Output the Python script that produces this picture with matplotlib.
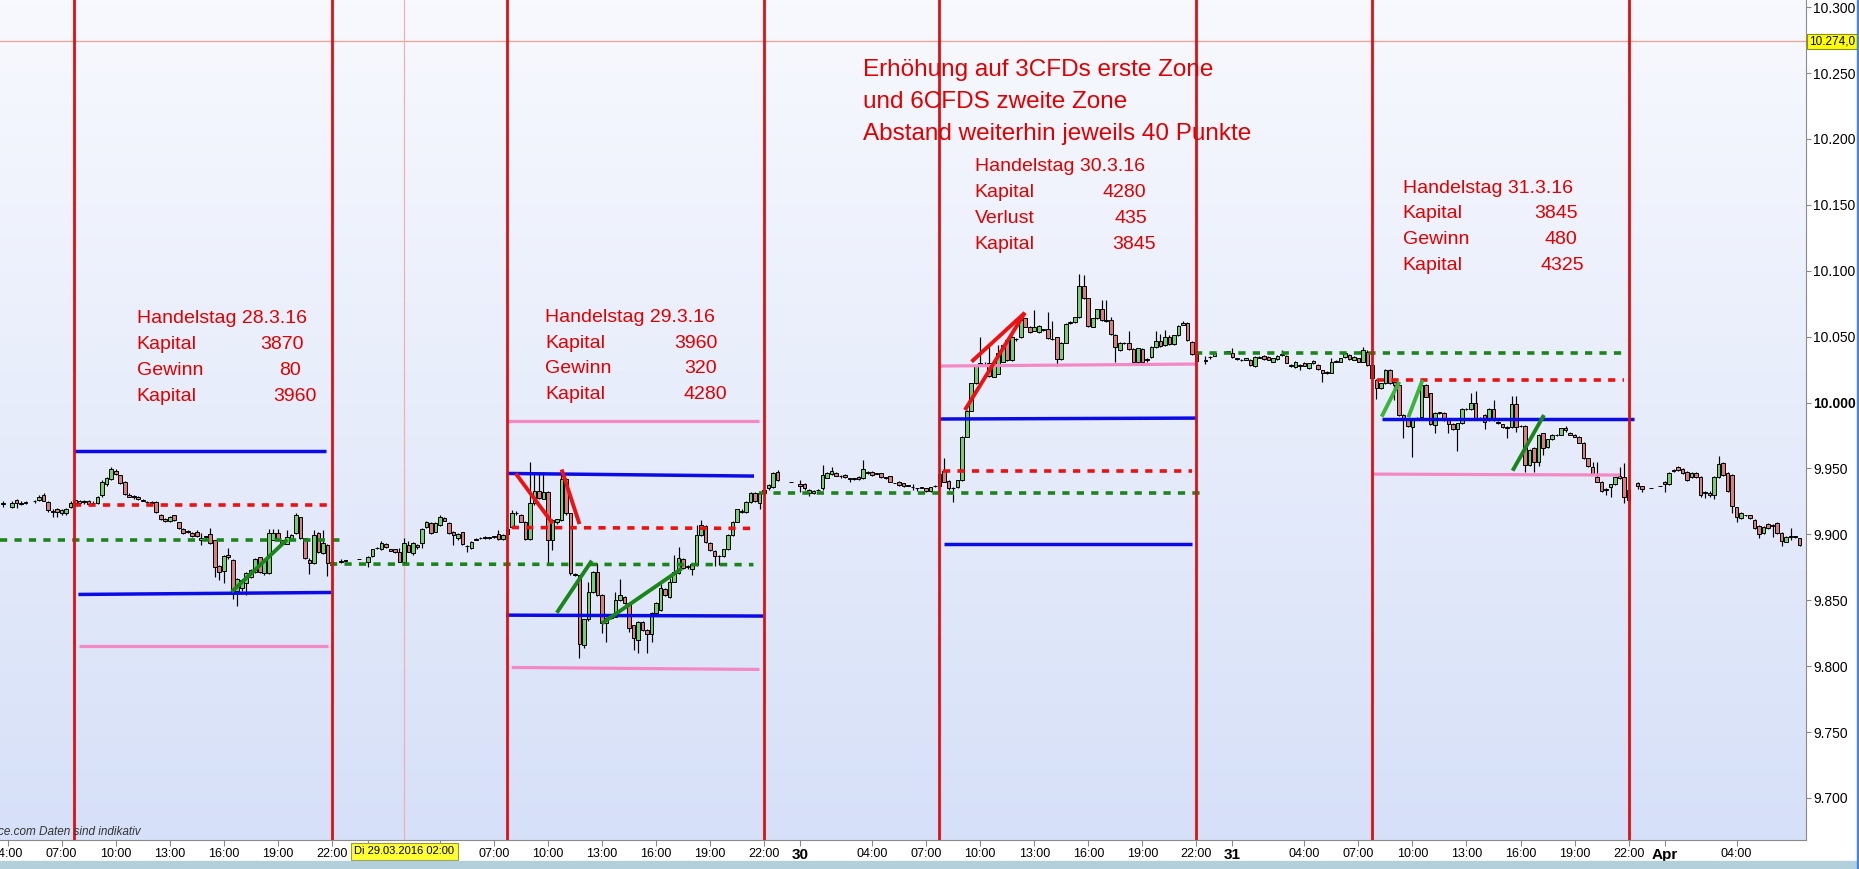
import numpy as np
import pandas as pd
import matplotlib
matplotlib.use('Agg')
import matplotlib.pyplot as plt
import matplotlib.transforms as mtrans
from matplotlib.colors import LinearSegmentedColormap
from matplotlib.patches import Rectangle

plt.rcParams['font.family'] = ['Liberation Sans', 'DejaVu Sans']

# 15 min candles: (hours since 28.03.2016 00:00, open, high, low, close)
candles_28 = [
    (3.75, 9923, 9925, 9921, 9924), (4.25, 9921, 9925, 9920, 9924), (4.5, 9926, 9927, 9920, 9924),
    (4.75, 9924, 9925, 9922, 9923), (5.0, 9924, 9925, 9923, 9924.5), (5.5, 9925, 9926, 9924, 9925),
    (5.75, 9926, 9930, 9925, 9928.5), (6.0, 9930, 9931, 9925, 9925.5), (6.25, 9924.5, 9925, 9917, 9918.5),
    (6.5, 9918, 9919, 9913, 9917), (6.75, 9919, 9920, 9913, 9917), (7.0, 9916, 9919.5, 9915, 9918.5),
    (7.25, 9916, 9920, 9915, 9919), (7.5, 9920.5, 9925, 9920, 9924), (7.75, 9926, 9927, 9922, 9923.5),
    (8.0, 9924, 9926, 9923, 9925), (8.25, 9925, 9926, 9923, 9924.5), (8.5, 9925.5, 9926, 9922, 9923),
    (8.75, 9923.5, 9925, 9923, 9924), (9.0, 9924, 9929, 9923, 9928), (9.25, 9929.5, 9941, 9928, 9939.5),
    (9.5, 9938, 9943.5, 9937, 9942.7), (9.75, 9941.7, 9951, 9941, 9949.2), (10.0, 9948.2, 9949.5, 9945, 9945.7),
    (10.25, 9944.7, 9945, 9938, 9938.6), (10.5, 9940, 9940.5, 9930, 9930.5), (10.75, 9930, 9931, 9928, 9928.5),
    (11.0, 9929, 9930, 9927, 9928), (11.25, 9928.5, 9929, 9926, 9926.7), (11.5, 9925.5, 9926.5, 9925, 9925.5),
    (11.75, 9924.5, 9925, 9923, 9924.2), (12.0, 9924, 9925, 9923, 9924), (12.25, 9924.2, 9925, 9916, 9916.6),
    (12.5, 9915, 9915.5, 9911, 9911.8), (12.75, 9911.8, 9912.5, 9909, 9910.3), (13.0, 9910, 9914, 9909, 9913.3),
    (13.25, 9914.3, 9915, 9910, 9910.6), (13.5, 9909, 9909.5, 9904, 9904.5), (13.75, 9904, 9904.5, 9900, 9901),
    (14.0, 9902, 9903, 9901, 9902), (14.25, 9900.7, 9901.5, 9898, 9899), (14.5, 9902, 9903, 9898, 9899),
    (14.75, 9895.4, 9900.7, 9891.8, 9897.4), (15.0, 9898.5, 9899, 9897, 9897.7), (15.25, 9900.5, 9905, 9893, 9893.6),
    (15.5, 9895.6, 9896, 9867.8, 9874.9), (15.75, 9876, 9877, 9865, 9871.4), (16.0, 9871.9, 9884.5, 9863, 9883.7),
    (16.25, 9884.7, 9890, 9881.5, 9882.5), (16.5, 9880.5, 9881, 9850.8, 9857.2), (16.75, 9857.2, 9866.5, 9845.8, 9865.8),
    (17.0, 9859, 9866, 9857, 9865), (17.25, 9863.3, 9871.5, 9854, 9870.8), (17.5, 9867.8, 9873.5, 9867, 9872.9),
    (17.75, 9871.6, 9882, 9871, 9881.2), (18.0, 9882.5, 9883, 9870.5, 9871.4), (18.25, 9870.3, 9881, 9869.5, 9880.5),
    (18.5, 9870.3, 9903.7, 9870, 9900.7), (18.75, 9896, 9903.7, 9895.5, 9901), (19.0, 9901.2, 9903.7, 9895, 9895.6),
    (19.25, 9895.6, 9896, 9892.5, 9893), (19.5, 9893, 9903, 9892.5, 9898), (19.75, 9896.1, 9900, 9895.5, 9899.2),
    (20.0, 9900.7, 9915.9, 9900, 9914.3), (20.25, 9912.8, 9913.5, 9896.5, 9896.9), (20.5, 9896.9, 9897.5, 9881, 9881.7),
    (20.75, 9880.5, 9882, 9869.6, 9878.4), (21.0, 9878, 9903.2, 9877.5, 9899.2), (21.25, 9900.7, 9901.5, 9886, 9886.8),
    (21.5, 9885.5, 9903, 9885, 9893.1), (21.75, 9891.6, 9892.5, 9868.3, 9878), (22.0, 9879, 9880, 9876, 9876.7),
    (22.5, 9879, 9881.5, 9878, 9880), (22.75, 9880, 9880.5, 9879, 9880), (23.5, 9881, 9881, 9881, 9881),
]
candles_29 = [
    (24.0, 9879, 9883.5, 9875, 9883), (24.25, 9883.5, 9889, 9883, 9888.6), (24.5, 9889.5, 9890.5, 9889, 9890),
    (24.75, 9888.6, 9895, 9888, 9893.7), (25.0, 9892.7, 9893.5, 9889.5, 9890.1), (25.25, 9888.6, 9889, 9887, 9887.6),
    (25.5, 9888.6, 9889, 9886, 9886.8), (25.75, 9886.8, 9890, 9879, 9879.3), (26.0, 9879.3, 9897.5, 9879, 9893.2),
    (26.25, 9891.9, 9895, 9886.5, 9886.8), (26.5, 9885.6, 9894.5, 9884.5, 9893.2), (26.75, 9891.9, 9892.5, 9888.5, 9890.1),
    (27.0, 9893.2, 9904.5, 9890, 9903.8), (27.25, 9905.3, 9910.5, 9904.5, 9909.6), (27.5, 9908.3, 9909, 9900, 9900.7),
    (27.75, 9902, 9909, 9901.5, 9908.3), (28.0, 9907, 9914.5, 9906.5, 9912.9), (28.25, 9912.1, 9913, 9910, 9910.4),
    (28.5, 9908.3, 9909, 9900, 9900.7), (28.75, 9901.7, 9902.5, 9892, 9899.5), (29.0, 9897, 9901, 9896, 9900),
    (29.25, 9901.5, 9902, 9892, 9892.7), (29.5, 9891.5, 9892, 9886.8, 9891), (29.75, 9889.3, 9895, 9889, 9894.4),
    (30.0, 9896, 9897, 9895.5, 9896.5), (30.25, 9897, 9898, 9896.5, 9897), (30.5, 9898.2, 9899, 9896.5, 9897),
    (30.75, 9897.5, 9898, 9896.5, 9897.5), (31.0, 9898, 9899, 9897, 9898.2), (31.25, 9900.2, 9903, 9895.5, 9896.2),
    (31.5, 9896.4, 9900, 9896, 9899.4), (31.75, 9900, 9906, 9899, 9904), (32.0, 9905.2, 9918.5, 9904.5, 9916.4),
    (32.25, 9916.5, 9917.5, 9914.5, 9916), (32.5, 9914.6, 9915.5, 9909, 9909.5), (32.75, 9909.5, 9910, 9895.5, 9896.1),
    (33.0, 9896.1, 9955, 9895.5, 9923.4), (33.25, 9923.4, 9947.5, 9922.5, 9933.1), (33.5, 9933, 9947, 9926.5, 9927.2),
    (33.75, 9927, 9947, 9926.5, 9932.3), (34.0, 9932.3, 9933, 9876.7, 9895.6), (34.25, 9895.6, 9911.5, 9888, 9910.8),
    (34.5, 9909, 9912, 9908, 9911.3), (34.75, 9910.8, 9949, 9910, 9941.7), (35.0, 9941.7, 9942.5, 9915, 9915.9),
    (35.25, 9915.9, 9916.5, 9869.5, 9870.3), (35.5, 9870, 9870.5, 9868.5, 9869.5), (35.75, 9869, 9869.5, 9805.9, 9816.7),
    (36.0, 9816, 9836, 9814, 9835.4), (36.25, 9835.4, 9864, 9834.5, 9856.4), (36.5, 9856.4, 9872.5, 9855.5, 9871.6),
    (36.75, 9871.6, 9878, 9853, 9853.9), (37.0, 9853.9, 9854.5, 9824.8, 9832.4), (37.25, 9832.4, 9837, 9818.5, 9836.2),
    (37.5, 9836.5, 9838, 9835.5, 9837), (37.75, 9837.5, 9856, 9837, 9850.1), (38.0, 9850, 9866, 9849.5, 9854),
    (38.25, 9852.6, 9853.5, 9847.5, 9848.1), (38.5, 9848, 9848.5, 9826, 9828.6), (38.75, 9831, 9831.5, 9812, 9821),
    (39.0, 9819.8, 9834.5, 9809.6, 9833.7), (39.25, 9833.7, 9834.5, 9827, 9827.8), (39.5, 9827.8, 9828.5, 9809.6, 9824.3),
    (39.75, 9824.3, 9841, 9818.5, 9840.5), (40.0, 9840.5, 9849, 9840, 9848), (40.25, 9842.5, 9862, 9842, 9859),
    (40.5, 9858.2, 9859, 9853, 9853.9), (40.75, 9852.6, 9867, 9852, 9864), (41.0, 9864, 9884, 9863.5, 9871.6),
    (41.25, 9870.8, 9890.6, 9870, 9881.7), (41.5, 9881, 9882, 9873.5, 9874.1), (41.75, 9876, 9877, 9874, 9875),
    (42.0, 9873.4, 9878, 9869, 9877.4), (42.25, 9876.7, 9907, 9876, 9899.4), (42.5, 9899.4, 9910.8, 9899, 9907),
    (42.75, 9906.2, 9907, 9893.5, 9894.4), (43.0, 9893.1, 9894, 9887, 9888), (43.25, 9887.5, 9888, 9876, 9883.5),
    (43.5, 9883.5, 9884, 9877, 9883.3), (43.75, 9883.5, 9889, 9883, 9888.6), (44.0, 9888.6, 9900, 9888, 9899.4),
    (44.25, 9899.4, 9910, 9899, 9909.5), (44.5, 9909.5, 9919.5, 9909, 9918.9), (44.75, 9918, 9919, 9916, 9917),
    (45.0, 9917.1, 9925.5, 9916.5, 9924.7), (45.25, 9924.7, 9932, 9924, 9931), (45.5, 9931.5, 9932, 9924.5, 9925.2),
    (45.75, 9924, 9932, 9919, 9931.5), (46.0, 9931, 9935, 9930, 9934), (46.25, 9934.8, 9938, 9934, 9937.4),
    (46.5, 9936, 9947.5, 9935.5, 9946.7), (46.75, 9947.5, 9948.5, 9940.5, 9941.2), (47.5, 9939.4, 9939.4, 9939.4, 9939.4),
]
candles_30 = [
    (48.0, 9938.1, 9941, 9932.5, 9936.9), (48.25, 9938.1, 9939, 9934, 9934.8), (48.5, 9931.5, 9934.5, 9929, 9934),
    (48.75, 9931, 9933.5, 9930.5, 9933), (49.0, 9933.6, 9934.5, 9933, 9933.6), (49.25, 9934.8, 9952.5, 9934, 9945),
    (49.5, 9943, 9947.5, 9942.5, 9946.7), (49.75, 9945.5, 9951, 9945, 9948), (50.0, 9946.7, 9947.5, 9944, 9944.4),
    (50.25, 9944.5, 9945, 9943, 9944), (50.5, 9945, 9945.5, 9943, 9943.2), (50.75, 9942.5, 9943, 9939.5, 9941.7),
    (51.0, 9942, 9942.5, 9941.5, 9942), (51.25, 9943.2, 9944, 9941, 9941.7), (51.5, 9942.4, 9956.3, 9942, 9949.2),
    (51.75, 9947.5, 9948, 9945.5, 9946.2), (52.0, 9947.5, 9948, 9944.5, 9945), (52.25, 9946, 9946.5, 9945.5, 9946),
    (52.5, 9946.2, 9946.5, 9942.5, 9943.2), (52.75, 9942.8, 9943.5, 9942, 9942.8), (53.0, 9944.2, 9944.5, 9939.5, 9939.9),
    (53.25, 9938.6, 9938.6, 9938.6, 9938.6), (53.5, 9939.9, 9940.5, 9937, 9937.4), (53.75, 9938.6, 9939, 9936, 9936.6),
    (54.0, 9936.9, 9937.5, 9936.5, 9936.9), (54.25, 9935.6, 9938, 9934, 9935.6), (54.5, 9934.8, 9935.5, 9933, 9934.8),
    (54.75, 9935.3, 9936, 9935, 9935.3), (55.0, 9934.8, 9935.5, 9932.5, 9933), (55.25, 9933, 9936, 9932.5, 9935.6),
    (55.5, 9936.5, 9937.5, 9936, 9937), (55.75, 9937, 9946.5, 9936.5, 9946), (56.0, 9948.3, 9958, 9939.5, 9940),
    (56.25, 9940.7, 9941, 9934, 9934.8), (56.5, 9935.5, 9936, 9924.7, 9934.8), (56.75, 9936, 9941.5, 9935.5, 9941),
    (57.0, 9941, 9974.5, 9940.5, 9974), (57.25, 9974, 9994.5, 9973.5, 9993.8), (57.5, 9993.8, 10015, 9993.5, 10014.5),
    (57.75, 10014.5, 10028.5, 10014, 10027.7), (58.0, 10028, 10050, 10027.5, 10030), (58.25, 10029, 10031, 10028.5, 10029.5),
    (58.5, 10030, 10043, 10019.5, 10020), (58.75, 10019.6, 10028, 10019, 10027.7), (59.0, 10022, 10043.5, 10021.5, 10037.3),
    (59.25, 10031, 10044, 10030.5, 10043.6), (59.5, 10047.4, 10048, 10031.5, 10032.2), (59.75, 10032.2, 10050.5, 10031.5, 10050),
    (60.0, 10048, 10049, 10046.5, 10048), (60.25, 10049.4, 10063, 10049, 10062.6), (60.5, 10063.8, 10064.5, 10057, 10057.5),
    (60.75, 10057.5, 10058, 10053, 10053.7), (61.0, 10054.5, 10070, 10054, 10057.5), (61.25, 10053.7, 10058.5, 10053, 10058),
    (61.5, 10055.5, 10056, 10054, 10055), (61.75, 10055.5, 10069, 10048, 10048.7), (62.0, 10048.5, 10062, 10047.5, 10048),
    (62.25, 10049.4, 10050, 10027.7, 10032.7), (62.5, 10032.7, 10046, 10032, 10045.4), (62.75, 10045.4, 10060, 10045, 10059.5),
    (63.0, 10060, 10061.5, 10059.5, 10061), (63.25, 10061.3, 10065, 10060.5, 10064.6), (63.5, 10064.6, 10097.5, 10064, 10088.4),
    (63.75, 10088.4, 10097, 10078.5, 10079), (64.0, 10079, 10079.5, 10057.5, 10058), (64.25, 10057.5, 10064.5, 10057, 10063.8),
    (64.5, 10063.8, 10071, 10063.5, 10070.7), (64.75, 10070.7, 10078, 10062, 10062.6), (65.0, 10062.5, 10078, 10061, 10062),
    (65.25, 10062.6, 10065, 10051.5, 10052), (65.5, 10051.2, 10052, 10031, 10041.8), (65.75, 10039.8, 10046, 10039, 10045.4),
    (66.0, 10045, 10046, 10044.5, 10045), (66.25, 10045.4, 10054, 10040, 10040.3), (66.5, 10040.3, 10041, 10030.5, 10031),
    (66.75, 10031, 10041.5, 10030.5, 10041), (67.0, 10040.3, 10041, 10030.5, 10031), (67.25, 10033, 10034, 10030.5, 10032),
    (67.5, 10034.3, 10043, 10034, 10042.3), (67.75, 10042, 10054, 10041.5, 10046.9), (68.0, 10046.9, 10052, 10042, 10042.8),
    (68.25, 10043.6, 10055, 10043, 10050), (68.5, 10050, 10051, 10044, 10044.4), (68.75, 10044.4, 10051.5, 10044, 10051),
    (69.0, 10051, 10058.5, 10050.5, 10058), (69.25, 10059, 10062, 10058.5, 10060), (69.5, 10060.5, 10061, 10047, 10047.4),
    (69.75, 10046, 10046.5, 10036, 10037), (70.0, 10036.5, 10037, 10031, 10031.5), (70.5, 10031.8, 10035, 10029.5, 10031.8),
    (70.75, 10034.3, 10035.5, 10033, 10034.3), (71.0, 10035.3, 10037.8, 10035, 10037.3), (71.75, 10038.6, 10038.6, 10038.6, 10038.6),
]
candles_31 = [
    (72.0, 10037.3, 10041.5, 10034, 10034.3), (72.25, 10033.5, 10034, 10032.5, 10033), (72.5, 10032.5, 10033, 10031.5, 10032),
    (72.75, 10032.5, 10034, 10032, 10033.5), (73.0, 10032.3, 10033, 10028, 10028.5), (73.25, 10027.7, 10035.5, 10027, 10034.8),
    (73.5, 10034, 10035, 10033.5, 10034.3), (73.75, 10035.3, 10036, 10032.5, 10032.8), (74.0, 10034.3, 10035, 10032, 10032.3),
    (74.25, 10031, 10034, 10030.5, 10033.5), (74.5, 10032.8, 10036, 10032.5, 10035.3), (74.75, 10036, 10040, 10035.5, 10037),
    (75.0, 10035.3, 10036, 10030, 10030.3), (75.25, 10028.5, 10029, 10027, 10027.5), (75.5, 10027.2, 10031.5, 10026.5, 10031),
    (75.75, 10028.5, 10029, 10024.5, 10027.5), (76.0, 10029.7, 10030.5, 10027.5, 10027.7), (76.25, 10026, 10030, 10025.5, 10029.7),
    (76.5, 10031.8, 10032.5, 10029.5, 10029.7), (76.75, 10028.5, 10029, 10025, 10025.2), (77.0, 10024.7, 10025, 10015.8, 10022.2),
    (77.25, 10023.2, 10024, 10022, 10022.7), (77.5, 10022.7, 10033.5, 10022.5, 10031), (77.75, 10031, 10032, 10030.5, 10031.5),
    (78.0, 10031, 10034, 10030.5, 10033.5), (78.25, 10034.3, 10038.5, 10034, 10037.8), (78.5, 10036, 10036.5, 10032.5, 10032.8),
    (78.75, 10032.3, 10035.5, 10032, 10034.8), (79.0, 10033.5, 10034, 10030.5, 10031), (79.25, 10031, 10042, 10030.5, 10039.9),
    (79.5, 10038.6, 10039.5, 10028, 10028.5), (79.75, 10028.5, 10029, 10018, 10018.4), (80.0, 10017, 10018, 10003, 10011),
    (80.25, 10010.8, 10015, 10010, 10014.5), (80.5, 10014.5, 10025.5, 10014, 10024.7), (80.75, 10024.7, 10025.5, 10014, 10014.5),
    (81.0, 10015.8, 10016.5, 10002, 10013.3), (81.25, 10013.3, 10014, 9990, 9990.5), (81.5, 9990.5, 9991, 9972.8, 9986.7),
    (81.75, 9987.2, 9988, 9981.5, 9982.2), (82.0, 9981.2, 9987.5, 9958.9, 9986.7), (82.25, 9988.5, 9989, 9987.5, 9988),
    (82.5, 9989.3, 10014, 9989, 10013.3), (82.75, 10013.3, 10014, 10004, 10004.4), (83.0, 10007, 10007.5, 9983, 9983.7),
    (83.25, 9983, 9992.5, 9977, 9991.8), (83.5, 9992.5, 9993, 9991.5, 9992), (83.75, 9992.3, 9993, 9986, 9986.7),
    (84.0, 9986.7, 9987.5, 9977, 9983.7), (84.25, 9983.7, 9984.5, 9979, 9979.6), (84.5, 9979.6, 9984.5, 9963.5, 9984.2),
    (84.75, 9984.2, 9995.5, 9983.5, 9994.8), (85.0, 9995, 9995.5, 9994.5, 9995), (85.25, 9994.8, 10007.5, 9994, 9999.9),
    (85.5, 9999.9, 10009, 9987.5, 9988), (85.75, 9988, 9989, 9986.5, 9987.7), (86.0, 9990.5, 9991, 9980, 9985.5),
    (86.25, 9986.7, 9995.5, 9986, 9994.8), (86.5, 9994.8, 10002, 9986, 9986.7), (86.75, 9985.5, 9986, 9983.5, 9984.5),
    (87.0, 9983.7, 9984, 9980.5, 9981.2), (87.25, 9981.5, 9982, 9973, 9981), (87.5, 9981.2, 10005, 9980.5, 9998.9),
    (87.75, 9998.9, 10005, 9978, 9981.2), (88.0, 9982, 9983, 9981.5, 9982.4), (88.25, 9982.2, 9983, 9947.5, 9952.6),
    (88.5, 9952.6, 9964.5, 9951.5, 9964), (88.75, 9965.2, 9966, 9947.5, 9955.1), (89.0, 9955.1, 9976, 9952, 9975.3),
    (89.25, 9976.6, 9977, 9960, 9965.2), (89.5, 9966, 9972.5, 9965.5, 9972), (89.75, 9972, 9976, 9971.5, 9975.3),
    (90.0, 9975, 9976, 9974.5, 9975.3), (90.25, 9975.3, 9981, 9975, 9980.4), (90.5, 9981, 9982, 9977.5, 9979.5),
    (90.75, 9976.6, 9977.5, 9975, 9975.3), (91.0, 9975.3, 9976, 9973.5, 9974), (91.25, 9974, 9974.5, 9969, 9969.5),
    (91.5, 9969.5, 9970, 9957, 9957.6), (91.75, 9957.6, 9958, 9951, 9951.5), (92.0, 9951.3, 9955, 9945.5, 9946),
    (92.25, 9943.7, 9955, 9939.5, 9939.9), (92.5, 9939.9, 9940.5, 9932.5, 9933.1), (92.75, 9933.5, 9935, 9930, 9934.5),
    (93.0, 9935.6, 9938.5, 9928.5, 9938.1), (93.25, 9938.1, 9943.5, 9937.5, 9943.2), (93.5, 9944.2, 9951.3, 9942, 9942.4),
    (93.75, 9943.2, 9953.8, 9924, 9928), (94.0, 9934, 9935, 9925, 9926), (94.5, 9938.6, 9940, 9934.5, 9936.6),
    (94.75, 9936.6, 9937, 9932.3, 9934.1), (95.25, 9934.8, 9934.8, 9934.8, 9934.8), (95.75, 9936.6, 9936.6, 9936.6, 9936.6),
]
candles_apr = [
    (96.0, 9939.9, 9940.5, 9932.5, 9938.1), (96.25, 9938.1, 9947, 9937.5, 9946.7), (96.5, 9948, 9949.5, 9947.5, 9948.7),
    (96.75, 9951.3, 9952, 9948, 9948.8), (97.0, 9949.3, 9950, 9945.5, 9946.2), (97.25, 9947.5, 9948, 9940.5, 9941.2),
    (97.5, 9943.7, 9947, 9943, 9946.7), (97.75, 9946.2, 9947, 9943, 9943.7), (98.0, 9943.2, 9944, 9928, 9929.8),
    (98.25, 9931, 9933, 9927.5, 9932), (98.5, 9931, 9933, 9928, 9930), (98.75, 9929.8, 9944.5, 9927, 9943.7),
    (99.0, 9943.7, 9959.4, 9943, 9953.3), (99.25, 9954.3, 9955, 9944.5, 9945), (99.5, 9946.7, 9947.5, 9932.5, 9933.1),
    (99.75, 9945, 9946, 9915.9, 9921.5), (100.0, 9920.4, 9921, 9909.6, 9913.4), (100.25, 9912.1, 9917, 9911.5, 9916.4),
    (100.5, 9914.6, 9915, 9914, 9914.6), (100.75, 9914.6, 9915, 9911.5, 9912.1), (101.0, 9910.8, 9911.5, 9904, 9904.5),
    (101.25, 9906.3, 9907, 9896.9, 9900.2), (101.5, 9901.2, 9906.5, 9900.5, 9905.8), (101.75, 9907.8, 9908.5, 9904, 9904.5),
    (102.0, 9907, 9908, 9898, 9906), (102.25, 9908.8, 9909.5, 9900.2, 9900.7), (102.5, 9901.2, 9901.5, 9891.1, 9895.2),
    (102.75, 9894.4, 9898.5, 9894, 9898.2), (103.0, 9898.2, 9905, 9896, 9898.2), (103.25, 9898, 9899, 9897.5, 9898),
    (103.5, 9896.9, 9897.5, 9891.5, 9891.9),
]

# trading zones (hours) and drawn levels: (t_start, t_end, price_start, price_end)
zone_start = [7.7, 31.7, 55.72, 79.73]
zone_end = [22.0, 46.0, 70.0, 94.0]
blue_levels = [(7.7, 21.68, 9963, 9963), (7.93, 21.96, 9854.4, 9855.9), (31.71, 45.44, 9946.2, 9944.2),
               (31.67, 45.96, 9838.7, 9838), (55.77, 70.02, 9987.5, 9988.2), (55.98, 69.75, 9893, 9893),
               (80.29, 94.3, 9987.2, 9987.2)]
pink_levels = [(7.99, 21.81, 9815, 9815), (31.69, 45.7, 9986, 9986), (31.99, 45.74, 9799, 9797.5),
               (55.77, 70.02, 10027.7, 10029.2), (79.73, 93.52, 9945.7, 9945)]
red_dashed = [(7.68, 21.94, 9922, 9922), (31.99, 45.59, 9905.2, 9904.5), (55.95, 69.75, 9948.3, 9948.3),
              (80.01, 93.77, 10017, 10017)]
green_dashed = [(3.576, 22.45, 9896, 9896), (21.9, 45.41, 9877.5, 9877), (45.7, 70.26, 9931.6, 9931.6),
                (69.9, 93.96, 10037.3, 10037.3)]
red_trend = [(32.21, 34.26, 9946.2, 9908.3), (34.76, 35.75, 9949.2, 9907.8), (57.15, 60.48, 9994.3, 10068.1),
             (57.52, 60.48, 10031, 10068.1)]
green_trend = [(16.44, 19.52, 9856.4, 9896.1), (34.49, 36.43, 9840.5, 9880), (36.99, 41.43, 9832.4, 9874.1),
               (87.56, 89.3, 9948.3, 9990.5)]
light_green_trend = [(80.29, 81.27, 9989.3, 10015.8), (81.77, 82.56, 9988.8, 10017.1)]
cursor_price = 10274.0
cursor_time = 26.02

# notes
header_lines = ['Erhöhung auf 3CFDs erste Zone', 'und 6CFDS zweite Zone', 'Abstand weiterhin jeweils 40 Punkte']
note_titles = ['Handelstag 28.3.16', 'Handelstag 29.3.16', 'Handelstag 30.3.16', 'Handelstag 31.3.16']
note_labels = [['Kapital', 'Gewinn', 'Kapital'], ['Kapital', 'Gewinn', 'Kapital'],
               ['Kapital', 'Verlust', 'Kapital'], ['Kapital', 'Gewinn', 'Kapital']]
note_values = [['3870', '80', '3960'], ['3960', '320', '4280'], ['4280', '435', '3845'], ['3845', '480', '4325']]

# x axis ticks (hours)
tick_hours = [4, 7, 10, 13, 16, 19, 22, 24, 28, 31, 34, 37, 40, 43, 46, 48, 52, 55, 58, 61, 64, 67, 70,
              72, 76, 79, 82, 85, 88, 91, 94, 96, 100]
day_names = {48: '30', 72: '31', 96: 'Apr'}

candles = pd.DataFrame(candles_28 + candles_29 + candles_30 + candles_31 + candles_apr,
                       columns=['t', 'open', 'high', 'low', 'close'])

fig = plt.figure(figsize=(18.59, 8.69), dpi=100)
fig.patch.set_facecolor('white')
ax = fig.add_axes([0, 29 / 869, 1806 / 1859, 840 / 869])

bg = LinearSegmentedColormap.from_list('bg', ['#f8f9fe', '#d6e0f8'])
ax.imshow(np.linspace(0, 1, 256).reshape(-1, 1), cmap=bg, aspect='auto',
          extent=(0, 1, 0, 1), transform=ax.transAxes, zorder=0)

# candles
up = candles['close'] >= candles['open']
ax.vlines(candles['t'], candles['low'], candles['high'], color='black', lw=0.85, zorder=2)
body_low = candles[['open', 'close']].min(axis=1)
body_h = (candles['close'] - candles['open']).abs().clip(lower=0.4)
ax.bar(candles['t'], body_h, width=0.2, bottom=body_low,
       color=np.where(up, '#72d072', '#d87e7e'), edgecolor='black', linewidth=0.7, zorder=3)

# cursor cross
ax.axhline(cursor_price, color='#f2a090', lw=0.9, zorder=1)
ax.axvline(cursor_time, color='#f2b0b0', lw=0.9, zorder=1)

def draw(segs, **kw):
    for t0, t1, p0, p1 in segs:
        ax.plot([t0, t1], [p0, p1], zorder=4, **kw)

draw(blue_levels, color='#0b0be6', lw=2.5, solid_capstyle='butt')
draw(pink_levels, color='#f488c4', lw=2.3, solid_capstyle='butt')
draw(red_dashed, color='#ee1111', lw=2.6, linestyle=(0, (2.0, 2.0)), dash_capstyle='butt')
draw(green_dashed, color='#1a861a', lw=2.6, linestyle=(0, (2.0, 2.0)), dash_capstyle='butt')
draw(red_trend, color='#ee1111', lw=2.8, solid_capstyle='butt')
draw(green_trend, color='#1a861a', lw=2.8, solid_capstyle='butt')
draw(light_green_trend, color='#3cb43c', lw=2.8, solid_capstyle='butt')

for t in zone_start + zone_end:
    ax.axvline(t, color='#e01010', lw=2.0, zorder=5)

# notes
red_txt = '#e00000'
for i, line in enumerate(header_lines):
    ax.text(51.5, 10247.7 - 24.2 * i, line, color=red_txt, fontsize=17.5, zorder=6)

note_x = [11.17, 33.86, 57.69, 81.45]
note_base = [10060, 10061.3, 10175.6, 10159.3]
value_right = [[20.46, 20.29, 21.16], [43.4, 43.35, 43.93], [67.23, 67.29, 67.76], [91.19, 91.13, 91.53]]
for k in range(4):
    ax.text(note_x[k], note_base[k], note_titles[k], color=red_txt, fontsize=14, zorder=6)
    for j in range(3):
        y = note_base[k] - 19.6 * (j + 1)
        ax.text(note_x[k], y, note_labels[k][j], color=red_txt, fontsize=14, zorder=6)
        ax.text(value_right[k][j], y, note_values[k][j], color=red_txt, fontsize=14, ha='right', zorder=6)

# axes
ax.set_xlim(3.576, 103.85)
ax.set_ylim(9668.1, 10305.4)
for s in ['top', 'left']:
    ax.spines[s].set_visible(False)
for s in ['right', 'bottom']:
    ax.spines[s].set_color('#8a8a8a')

yt = np.arange(9700, 10301, 50)
ax.yaxis.tick_right()
ax.set_yticks(yt)
ax.set_yticklabels([f'{v / 1000:.3f}' for v in yt])
ax.tick_params(axis='y', direction='out', length=3.5, width=0.8, color='#8a8a8a', pad=1.5, labelsize=10)
for lbl in ax.get_yticklabels():
    if lbl.get_text() == '10.000':
        lbl.set_fontweight('bold')

xt_labels = []
for h in tick_hours:
    if h in day_names:
        xt_labels.append(day_names[h])
    elif h in (24, 28):
        xt_labels.append('')
    else:
        xt_labels.append(f'{h % 24:02d}:00')
ax.set_xticks(tick_hours)
ax.set_xticklabels(xt_labels)
ax.tick_params(axis='x', direction='out', length=4, width=0.8, color='#8a8a8a', pad=1.5, labelsize=9)
for lbl in ax.get_xticklabels():
    if lbl.get_text() in day_names.values():
        lbl.set_fontweight('bold')
        lbl.set_fontsize(11)

bx = mtrans.blended_transform_factory(ax.transData, ax.transAxes)
ax.text(cursor_time, -0.0135, 'Di 29.03.2016 02:00', transform=bx, ha='center', va='center',
        fontsize=8, clip_on=False, zorder=7,
        bbox=dict(boxstyle='square,pad=0.3', facecolor='#ffff33', edgecolor='#9a9a40', lw=0.8))
by = mtrans.blended_transform_factory(ax.transAxes, ax.transData)
ax.text(1.0015, cursor_price, '10.274,0', transform=by, ha='left', va='center', fontsize=8.5,
        clip_on=False, zorder=7,
        bbox=dict(boxstyle='square,pad=0.15', facecolor='#ffff00', edgecolor='#8a8a30', lw=0.8))

ax.text(-0.001, 0.009, 'ce.com Daten sind indikativ', transform=ax.transAxes, fontsize=8.5, style='italic',
        color='#333333', va='center', zorder=6)

fig.patches.append(Rectangle((0, 0), 1, 8 / 869, transform=fig.transFigure, color='#b4cfdc', zorder=0))
fig.patches.append(Rectangle((1856.5 / 1859, 0), 2.5 / 1859, 1, transform=fig.transFigure, color='#4a82dc', zorder=0))

fig.savefig('out.png', dpi=100)
